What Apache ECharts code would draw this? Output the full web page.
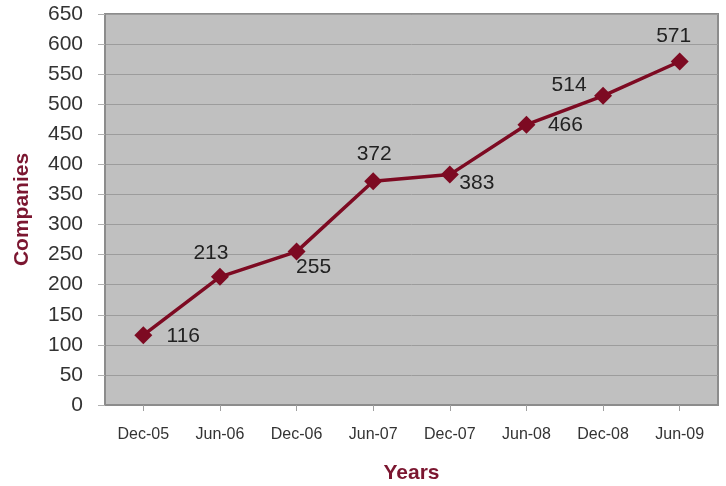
<!DOCTYPE html>
<html>
<head>
<meta charset="utf-8">
<title>Companies</title>
<script src="https://cdn.jsdelivr.net/npm/echarts@6/dist/echarts.min.js"></script>
<style>
  html, body { margin: 0; padding: 0; background: #ffffff; }
  #chart { width: 726px; height: 486px; }
</style>
</head>
<body>
<div id="chart"></div>
<script>
// Half-year periods and the number of companies in each
const periods = ['Dec-05', 'Jun-06', 'Dec-06', 'Jun-07', 'Dec-07', 'Jun-08', 'Dec-08', 'Jun-09'];
const companies = [116, 213, 255, 372, 383, 466, 514, 571];

// Value label placement around each marker (pixel offset of label centre)
const labelOffsets = [[40, 1], [-9, -24], [17, 16], [1, -27], [27, 9], [39, 1], [-34, -11], [-6, -25]];

const lineColor = '#7d0a22';
const titleColor = '#7b1630';
const textFont = 'Liberation Sans, Arial, sans-serif';

const chart = echarts.init(document.getElementById('chart'), null, { renderer: 'canvas' });

chart.setOption({
  animation: false,
  backgroundColor: '#ffffff',
  grid: {
    left: 105, right: 8, top: 14, bottom: 81,
    outerBoundsMode: 'none',
    containLabel: false,
    show: true,
    backgroundColor: '#c0c0c0',
    borderColor: '#8c8c8c',
    borderWidth: 2
  },
  xAxis: {
    type: 'category',
    data: periods,
    boundaryGap: true,
    name: 'Years',
    nameLocation: 'middle',
    nameGap: 58,
    nameTextStyle: { color: titleColor, fontFamily: textFont, fontSize: 21, fontWeight: 'bold' },
    axisLine: { show: true, lineStyle: { color: '#8c8c8c', width: 2 } },
    axisTick: { show: true, alignWithLabel: true, length: 6, lineStyle: { color: '#a0a0a0' } },
    axisLabel: { color: '#333333', fontFamily: textFont, fontSize: 16, margin: 22 },
    splitLine: { show: false }
  },
  yAxis: {
    type: 'value',
    min: 0, max: 650, interval: 50,
    name: 'Companies',
    nameLocation: 'middle',
    nameRotate: 90,
    nameGap: 72,
    nameTextStyle: { color: titleColor, fontFamily: textFont, fontSize: 21, fontWeight: 'bold' },
    axisLine: { show: true, lineStyle: { color: '#8c8c8c', width: 2 } },
    axisTick: { show: true, length: 7, lineStyle: { color: '#b0b0b0' } },
    axisLabel: { color: '#333333', fontFamily: textFont, fontSize: 21, margin: 22 },
    splitLine: { show: true, lineStyle: { color: '#9c9c9c', width: 1 } }
  },
  series: [{
    type: 'line',
    data: companies.map((v, i) => ({
      value: v,
      label: { position: 'inside', offset: labelOffsets[i] }
    })),
    symbol: 'diamond',
    symbolSize: [18, 18],
    itemStyle: { color: lineColor },
    lineStyle: { color: lineColor, width: 3.5 },
    label: {
      show: true,
      color: '#222222',
      fontFamily: textFont,
      fontSize: 21
    }
  }]
});
</script>
</body>
</html>
